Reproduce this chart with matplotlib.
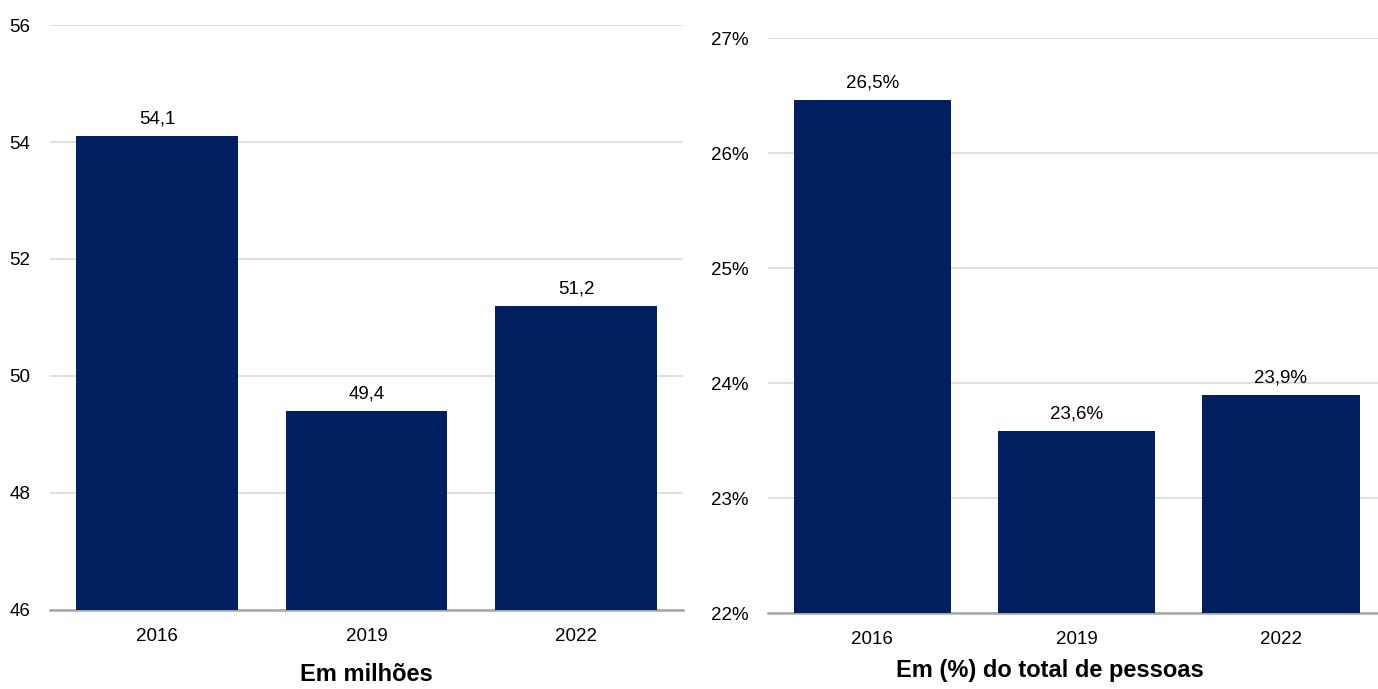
import matplotlib.pyplot as plt
from matplotlib.ticker import FuncFormatter

plt.rcParams['font.family'] = ['Liberation Sans Narrow', 'Liberation Sans', 'DejaVu Sans']

# data
anos = ['2016', '2019', '2022']
milhoes = [54.1, 49.4, 51.2]
percentual = [26.46, 23.58, 23.90]

bar_color = '#002060'
grid_color = '#d9d9d9'
axis_color = '#a6a6a6'
fs = 13.5

fig = plt.figure(figsize=(13.78, 6.89), dpi=100)
ax1 = fig.add_axes([0.0363, 0.1147, 0.4594, 0.849])
ax2 = fig.add_axes([0.5573, 0.1103, 0.4427, 0.8345])


def style(ax, ymin, ymax, step, xmax):
    ax.set_ylim(ymin, ymax)
    ax.set_xlim(-0.51, xmax)
    ax.set_yticks([ymin + i * step for i in range(int(round((ymax - ymin) / step)) + 1)])
    ax.grid(axis='y', color=grid_color, linewidth=1.2)
    ax.set_axisbelow(True)
    for s in ['top', 'right', 'left']:
        ax.spines[s].set_visible(False)
    ax.spines['bottom'].set_color(axis_color)
    ax.spines['bottom'].set_linewidth(1.8)
    ax.tick_params(axis='both', length=0, labelsize=fs)
    ax.tick_params(axis='y', pad=14)
    ax.tick_params(axis='x', pad=13)


# left panel - em milhões
x = range(len(anos))
ax1.bar(x, milhoes, width=0.77, color=bar_color, zorder=3)
style(ax1, 46, 56, 2, 2.51)
ax1.set_xticks(list(x))
ax1.set_xticklabels(anos)
for i, v in enumerate(milhoes):
    ax1.annotate(f'{v:.1f}'.replace('.', ','), (i, v), xytext=(0, 6),
                 textcoords='offset points', ha='center', va='bottom', fontsize=fs)
ax1.set_xlabel('Em milhões', fontsize=17, fontweight='bold', labelpad=13)

# right panel - em % do total
ax2.bar(x, percentual, width=0.77, color=bar_color, zorder=3)
style(ax2, 22, 27, 1, 2.475)
ax2.set_xticks(list(x))
ax2.set_xticklabels(anos)
ax2.yaxis.set_major_formatter(FuncFormatter(lambda v, p: f'{v:.0f}%'))
for i, v in enumerate(percentual):
    ax2.annotate(f'{v:.1f}%'.replace('.', ','), (i, v), xytext=(0, 6),
                 textcoords='offset points', ha='center', va='bottom', fontsize=fs)
ax2.set_xlabel('Em (%) do total de pessoas', fontsize=17, fontweight='bold')
ax2.xaxis.set_label_coords(0.4615, -0.08)

fig.savefig('out.png', dpi=100)
